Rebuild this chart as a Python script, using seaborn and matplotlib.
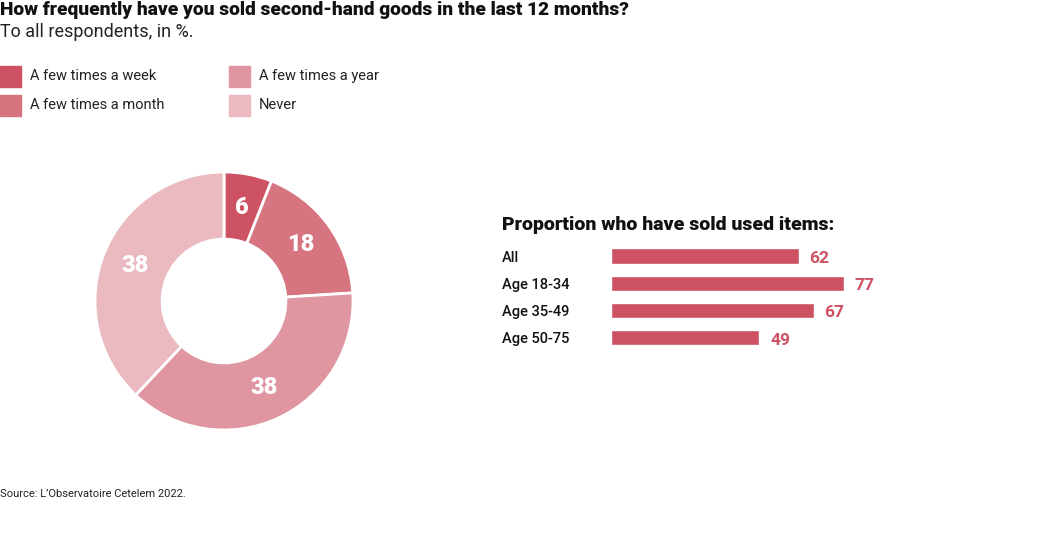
import matplotlib
matplotlib.use('Agg')
import matplotlib.pyplot as plt
import seaborn as sns
import pandas as pd
import numpy as np

# donut data
freq_labels = ['A few times a week', 'A few times a month', 'A few times a year', 'Never']
freq_values = [6, 18, 38, 38]
freq_colors = ['#cd5263', '#d67580', '#e096a0', '#ebbac1']

# bar data
groups = ['All', 'Age 18-34', 'Age 35-49', 'Age 50-75']
sold_pct = [62, 77, 67, 49]
bar_color = '#cd5263'

sns.set_theme(style='white')
plt.rcParams['font.family'] = ['Roboto', 'DejaVu Sans']

W, H = 1052, 553
fig = plt.figure(figsize=(W / 100, H / 100), dpi=100)

def fx(px):
    return px / W

def fy(py):
    return 1 - py / H

# titles
fig.text(fx(0), fy(10), 'How frequently have you sold second-hand goods in the last 12 months?',
         fontsize=13.8, fontweight='heavy', va='center', ha='left', color='#111111')
fig.text(fx(0), fy(32), 'To all respondents, in %.', fontsize=13, va='center', ha='left', color='#222222')

# legend
leg_pos = [(0, 76), (0, 105), (229, 76), (229, 105)]
for (lx, ly), lab, col in zip(leg_pos, freq_labels, freq_colors):
    fig.patches.append(plt.Rectangle((fx(lx), fy(ly + 10.5)), fx(21), 21 / H, color=col,
                                     transform=fig.transFigure, figure=fig))
    fig.text(fx(lx + 30), fy(ly), lab, fontsize=10.5, va='center', ha='left', color='#222222')

# donut
cx, cy, r = 224, 301, 129
ax1 = fig.add_axes([fx(cx - r), fy(cy + r), fx(2 * r), 2 * r / H])
wedges, _ = ax1.pie(freq_values, colors=freq_colors, startangle=90, counterclock=False,
                    radius=1, wedgeprops=dict(width=0.52, edgecolor='white', linewidth=2))
theta = 90.0
total = sum(freq_values)
for v in freq_values:
    span = 360.0 * v / total
    mid = np.deg2rad(theta - span / 2)
    ax1.text(0.74 * np.cos(mid), 0.74 * np.sin(mid), str(v), ha='center', va='center',
             fontsize=17, fontweight='heavy', color='white')
    theta -= span
ax1.set_xlim(-1, 1)
ax1.set_ylim(-1, 1)
ax1.set_aspect('equal')
ax1.axis('off')

# bars
fig.text(fx(502), fy(225), 'Proportion who have sold used items:', fontsize=14, fontweight='heavy',
         va='center', ha='left', color='#111111')
row_h = 27.3
top = 256 - row_h / 2
ax2 = fig.add_axes([fx(611), fy(top + 4 * row_h), fx(303), 4 * row_h / H])
df = pd.DataFrame({'group': groups, 'pct': sold_pct})
sns.barplot(data=df, y='group', x='pct', color=bar_color, width=0.55, saturation=1, ax=ax2)
ax2.set_xlim(0, 100)
ax2.set_ylim(3.5, -0.5)
for i, v in enumerate(sold_pct):
    ax2.text(v + 3.5, i + 0.08, str(v), ha='left', va='center', fontsize=12.5, fontweight='bold',
             color=bar_color)
ax2.set_xlabel('')
ax2.set_ylabel('')
ax2.set_xticks([])
for s in ax2.spines.values():
    s.set_visible(False)
ax2.tick_params(axis='y', length=0, pad=(611 - 502) * 0.72)
for t in ax2.get_yticklabels():
    t.set_horizontalalignment('left')
    t.set_fontsize(10.5)
    t.set_fontweight('medium')
    t.set_color('#111111')
ax2.patch.set_alpha(0)

fig.text(fx(0), fy(494), 'Source: L\u2019Observatoire Cetelem 2022.', fontsize=8, va='center', ha='left',
         color='#222222')

fig.savefig('out.png', dpi=100)
